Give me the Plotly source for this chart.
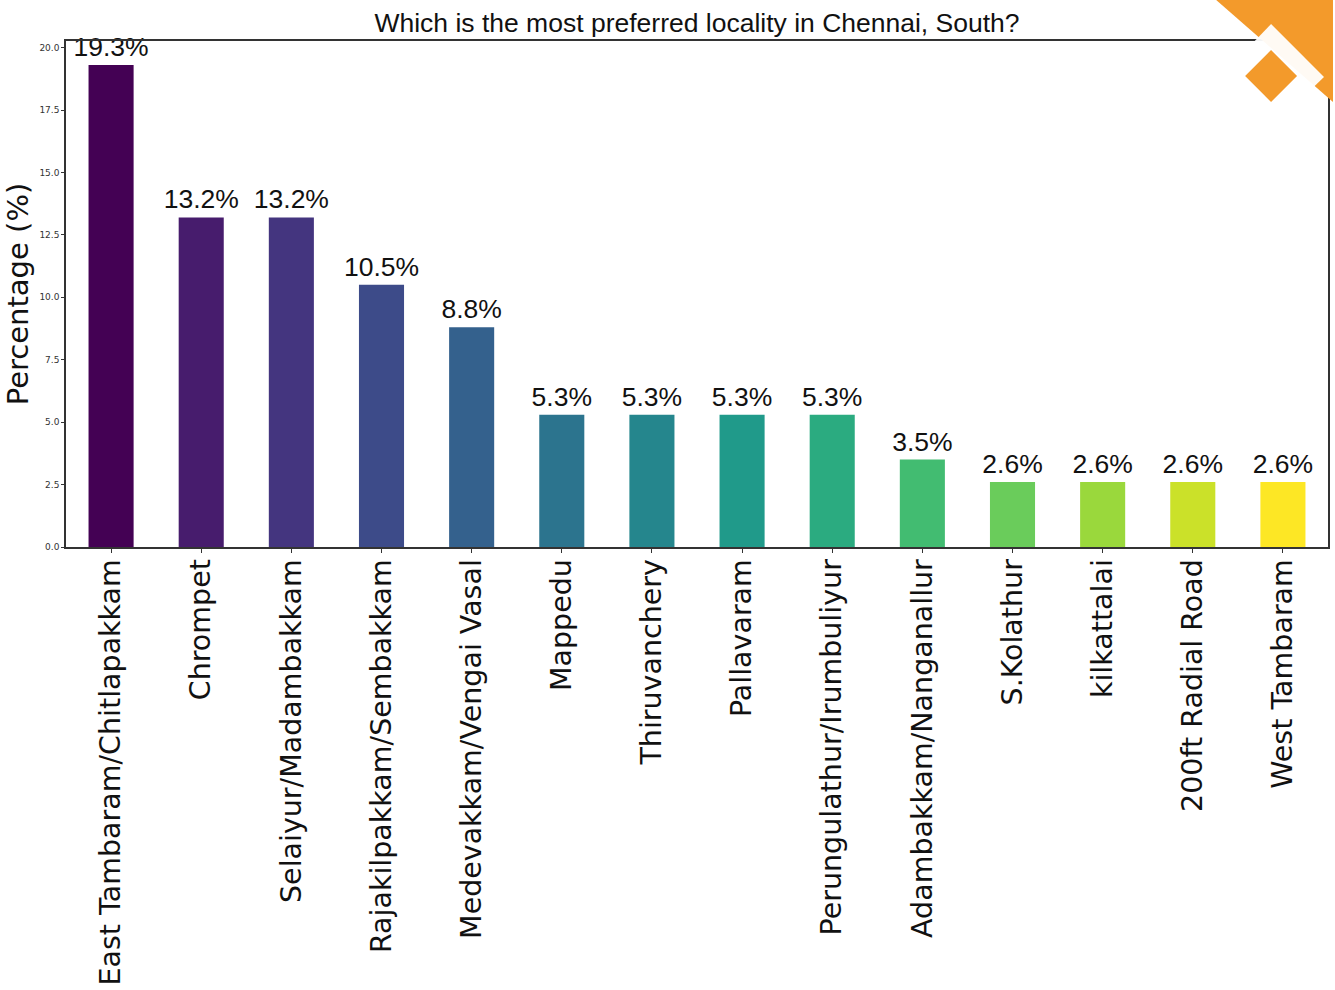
import plotly.graph_objects as go
from plotly.colors import sample_colorscale

categories = ["East Tambaram/Chitlapakkam", "Chrompet", "Selaiyur/Madambakkam",
              "Rajakilpakkam/Sembakkam", "Medevakkam/Vengai Vasal", "Mappedu",
              "Thiruvanchery", "Pallavaram", "Perungulathur/Irumbuliyur",
              "Adambakkam/Nanganallur", "S.Kolathur", "kilkattalai",
              "200ft Radial Road", "West Tambaram"]
values = [19.3, 13.2, 13.2, 10.5, 8.8, 5.3, 5.3, 5.3, 5.3, 3.5, 2.6, 2.6, 2.6, 2.6]
y_ticks = [0.0, 2.5, 5.0, 7.5, 10.0, 12.5, 15.0, 17.5, 20.0]
title_text = "Which is the most preferred locality in Chennai, South?"

n = len(categories)
colors = sample_colorscale("Viridis", [i / (n - 1) for i in range(n)])

W, H = 1335, 990
L, R, T, B = 66, 1330, 41, 547

fig = go.Figure(go.Bar(
    x=list(range(n)), y=values, width=0.5,
    marker=dict(color=colors, line=dict(width=0)),
    text=[f"{v:.1f}%" for v in values], textposition="outside",
    constraintext="none",
    textfont=dict(family="Liberation Sans, Arial, sans-serif", size=26.5, color="#111"),
    cliponaxis=False,
))

def px(x):
    return (x - L) / (R - L)

def py(y):
    return (B - y) / (B - T)

def path(pts):
    return "M " + " L ".join(f"{px(a)},{py(b)}" for a, b in pts) + " Z"

shapes = [
    dict(type="path", xref="paper", yref="paper",
         path=path([(1218, 0), (1335, 0), (1335, 102)]),
         fillcolor="#F39A2B", line=dict(width=0), layer="above"),
    dict(type="path", xref="paper", yref="paper",
         path=path([(1273, 24), (1326, 77), (1273, 128), (1222, 77)]),
         fillcolor="rgba(255,255,255,0.95)", line=dict(width=0), layer="above"),
    dict(type="path", xref="paper", yref="paper",
         path=path([(1273, 50), (1299, 76), (1273, 102), (1247, 76)]),
         fillcolor="#F39A2B", line=dict(width=0), layer="above"),
]

fig.update_layout(
    width=W, height=H,
    margin=dict(l=L, r=W - R, t=T, b=H - B),
    paper_bgcolor="white", plot_bgcolor="white",
    showlegend=False,
    title=dict(text=title_text, x=697 / W, xanchor="center", y=1 - 23 / H, yanchor="middle",
               font=dict(family="Liberation Sans, Arial, sans-serif", size=26.5, color="#111")),
    shapes=shapes,
    xaxis=dict(range=[-0.5, n - 0.5], tickmode="array", tickvals=list(range(n)), ticktext=categories,
               tickangle=-90, ticks="outside", ticklen=4, tickcolor="#333", ticklabelstandoff=-5,
               tickfont=dict(family="DejaVu Sans, sans-serif", size=28.5, color="#111"),
               showline=True, linecolor="#333", linewidth=1.5, mirror=True, showgrid=False, zeroline=False),
    yaxis=dict(range=[0, 20.265], tickmode="array", tickvals=y_ticks, ticktext=[f"{t:.1f}" for t in y_ticks],
               ticks="outside", ticklen=3, tickcolor="#333",
               tickfont=dict(family="DejaVu Sans, sans-serif", size=9, color="#333"),
               title=dict(text="Percentage (%)", font=dict(family="DejaVu Sans, sans-serif", size=29, color="#111"), standoff=2),
               showline=True, linecolor="#333", linewidth=1.5, mirror=True, showgrid=False, zeroline=False),
)

fig.write_html("out.html", config={"displayModeBar": False},
               post_script="document.body.style.margin='0';")
